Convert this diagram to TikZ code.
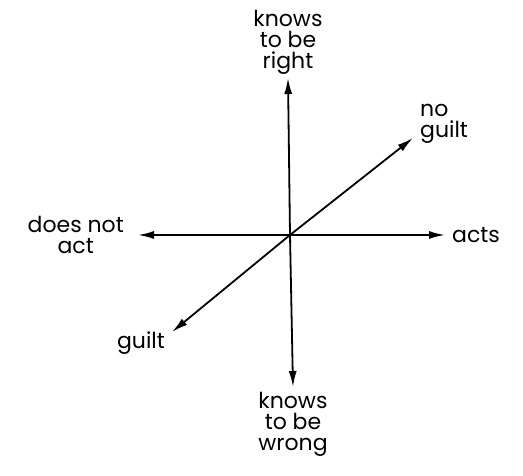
\documentclass[tikz,border=0pt]{standalone}
\usepackage{fontspec}
\setmainfont{Poppins}
\usetikzlibrary{arrows.meta, positioning}

\begin{document}
\begin{tikzpicture}[
  x=1pt, y=1pt,
  axis/.style={-{Latex[length=16pt, width=8pt]}, line width=1.8pt},
  lbl/.style={align=center, font=\fontsize{22}{21}\selectfont, inner sep=0pt}
]
  \useasboundingbox (0,0) rectangle (523,476);
  % centre and arrow tips
  \coordinate (o) at (290,241);
  \coordinate (up) at (288,398);
  \coordinate (down) at (293,89);
  \coordinate (lft) at (138,241);
  \coordinate (rgt) at (445,241);
  \coordinate (ne) at (413,338);
  \coordinate (sw) at (172,144);
  \node[lbl, above=3pt of up] (right) {knows\\to be\\right};
  \node[lbl, below=5pt of down] (wrong) {knows\\to be\\wrong};
  \node[lbl, left=14pt of lft] (noact) {does not\\act};
  \node[lbl, right=7pt of rgt] (acts) {acts};
  \node[lbl, align=left, anchor=south west] (noguilt) at (420,332) {no\\guilt};
  \node[lbl] (guilt) at (141,133) {guilt};
  \draw[axis] (o) -- (up);
  \draw[axis] (o) -- (down);
  \draw[axis] (o) -- (lft);
  \draw[axis] (o) -- (rgt);
  \draw[axis] (o) -- (ne);
  \draw[axis] (o) -- (sw);
\end{tikzpicture}
\end{document}
